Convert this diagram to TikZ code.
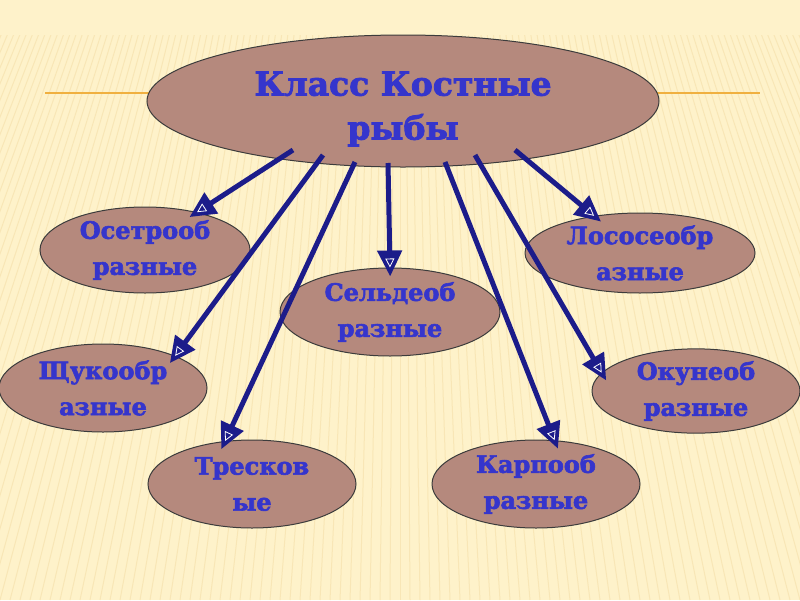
\documentclass[tikz,border=0pt]{standalone}
\usepackage{fontspec}
\setmainfont{DejaVu Serif}[BoldFeatures={FakeBold=2.5}]
\usetikzlibrary{shapes.geometric,arrows.meta}

\definecolor{bgcream}{HTML}{FEF2CA}
\definecolor{stripe}{HTML}{F8E6B6}
\definecolor{rule}{HTML}{F0B040}
\definecolor{ellfill}{HTML}{B5897D}
\definecolor{ellborder}{HTML}{3C3C3C}
\definecolor{lblblue}{HTML}{3535CC}
\definecolor{arrblue}{HTML}{1C1C8A}

\tikzset{
  fishclass/.style={ellipse, draw=ellborder, fill=ellfill, line width=1pt,
    text=lblblue, font=\bfseries\fontsize{24}{36}\selectfont, align=center, inner sep=0pt},
  arr/.style={draw=arrblue, line width=5pt,
    -{Triangle[length=26pt,width=24pt,sep=-18pt]Triangle[open,color=white,length=9pt,width=9pt,line width=0.8pt]}},
}

\begin{document}
\begin{tikzpicture}[x=1pt,y=-1pt]
\useasboundingbox (0,0) rectangle (800,600);
% background
\fill[bgcream] (0,0) rectangle (800,600);
\begin{scope}
\clip (0,35) rectangle (800,600);
\foreach \k in {-500,-490,...,1300}
  \draw[stripe,line width=1pt] (400,-900) -- (\k,600);
\end{scope}
\draw[rule,line width=2pt] (45,93) -- (760,93);

% nodes
\node[fishclass,minimum width=512,minimum height=132,font=\bfseries\fontsize{33}{44}\selectfont]
  (main) at (403,101) {\rule{0pt}{40pt}Класс Костные\\рыбы};
\node[fishclass,minimum width=210,minimum height=86] (oset) at (145,250) {Осетрооб\\разные};
\node[fishclass,minimum width=230,minimum height=80] (loso) at (640,253) {Лососеобр\\азные};
\node[fishclass,minimum width=220,minimum height=88] (seld) at (390,312) {Сельдеоб\\разные};
\node[fishclass,minimum width=208,minimum height=88] (shchu) at (103,388) {Щукообр\\азные};
\node[fishclass,minimum width=208,minimum height=82] (okun) at (696,391) {Окунеоб\\разные};
\node[fishclass,minimum width=208,minimum height=88] (tres) at (252,484) {Тресков\\ые};
\node[fishclass,minimum width=208,minimum height=88] (karp) at (536,484) {Карпооб\\разные};

% arrows
\coordinate (s1) at (293,150);
\coordinate (s2) at (323,155);
\coordinate (s3) at (355,162);
\coordinate (s4) at (388,163);
\coordinate (s5) at (445,162);
\coordinate (s6) at (475,155);
\coordinate (s7) at (515,150);
\draw[arr] (s1) -- (oset.36);
\draw[arr] (s2) -- (shchu.24);
\draw[arr] (s3) -- (tres.122);
\draw[arr] (s4) -- (seld.north);
\draw[arr] (s5) -- (karp.67);
\draw[arr] (s6) -- (okun.169);
\draw[arr] (s7) -- (loso.141);
\end{tikzpicture}
\end{document}
